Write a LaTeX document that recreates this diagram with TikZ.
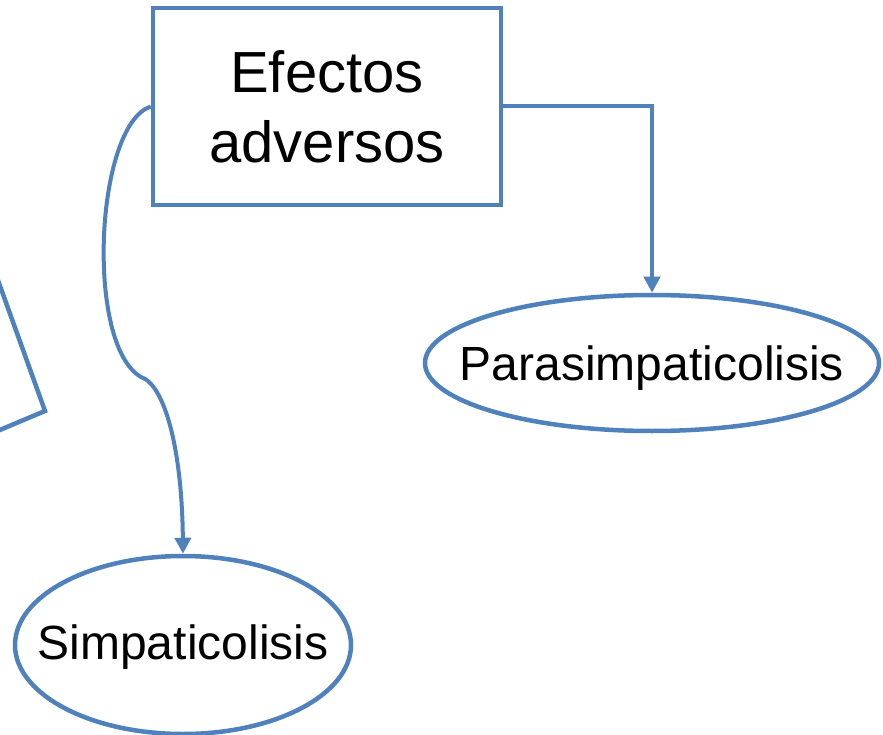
\documentclass[tikz,border=0pt]{standalone}
\usepackage{fontspec}
\setmainfont{Liberation Sans}
\usetikzlibrary{shapes.geometric,arrows.meta}
\definecolor{linkblue}{HTML}{4F81BD}
\tikzset{
  frame/.style={draw=linkblue, line width=4.5pt, fill=white, inner sep=0pt},
  oval/.style={ellipse, draw=linkblue, line width=4.5pt, fill=white, inner sep=0pt},
  link/.style={draw=linkblue, line width=4pt, -{Triangle[width=16pt,length=16pt]}},
  bigtext/.style={font=\fontsize{58}{70}\selectfont, align=center},
  ovaltext/.style={font=\fontsize{48}{57}\selectfont}
}
\begin{document}
\begin{tikzpicture}[x=1pt,y=-1pt]
  \useasboundingbox (0,0) rectangle (883,735);
  % partial outline at the left edge
  \draw[draw=linkblue, line width=4.5pt, line join=miter] (-5,272) -- (45,411) -- (-5,432);
  % main box
  \node[frame, minimum width=348pt, minimum height=197pt, bigtext] (box) at (327,106.5) {Efectos\\adversos};
  % outcome ovals
  \node[oval, minimum width=454pt, minimum height=136pt] (para) at (652,363) {};
  \node[ovaltext] (paralabel) at ([yshift=-5pt]para.center) {Parasimpaticolisis};
  \node[oval, minimum width=336pt, minimum height=178pt] (simp) at (183,645) {};
  \node[ovaltext] (simplabel) at ([yshift=-2pt]simp.center) {Simpaticolisis};
  % connectors
  \draw[link] (box.east) -| (para.north);
  \draw[link] (box.west) .. controls (95,125) and (85,345) .. (141,377)
              .. controls (165,385) and (182,450) .. (simp.north);
\end{tikzpicture}
\end{document}
